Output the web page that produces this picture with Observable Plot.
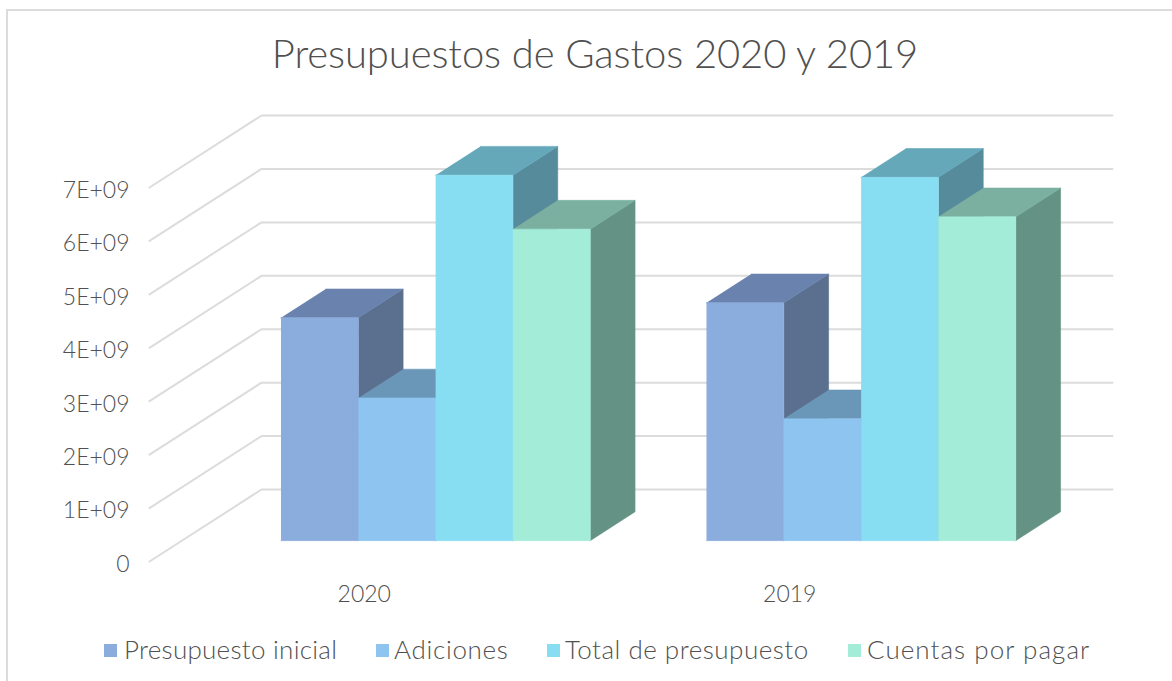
<!DOCTYPE html>
<html lang="es"><head><meta charset="utf-8">
<script src="https://cdn.jsdelivr.net/npm/d3@7"></script>
<script src="https://cdn.jsdelivr.net/npm/@observablehq/plot@0.6"></script>
<style>
html,body{margin:0;padding:0;background:#fff;overflow:hidden}
#frame{position:relative;width:1172px;height:681px;font-family:Lato,sans-serif;color:#505050}
#frame:before{content:"";position:absolute;left:6px;top:9px;right:-5px;bottom:-5px;border:2px solid #dcdcdc;pointer-events:none}
#title{height:100px;box-sizing:border-box;padding-top:26px;text-align:center;padding-left:18px;font-size:40px;font-weight:300;line-height:54px;letter-spacing:-.1px}
#chart{height:520px}
#chart svg{display:block;font-family:Lato,sans-serif;font-weight:300}
#legend{position:relative;height:61px;font-size:26px;font-weight:300}
#legend span{position:absolute;top:14px;white-space:nowrap;line-height:30px}
#legend i{position:absolute;top:24px;width:13px;height:13px}
</style></head><body>
<div id="frame"><div id="title">Presupuestos de Gastos 2020 y 2019</div><div id="chart"></div><div id="legend"></div></div>
<script>
const categories = ["2020", "2019"];
const seriesNames = ["Presupuesto inicial", "Adiciones", "Total de presupuesto", "Cuentas por pagar"];
const values2020 = [4.17e9, 2.67e9, 6.84e9, 5.83e9];
const values2019 = [4.45e9, 2.28e9, 6.80e9, 6.06e9];
const yTicks = [0, 1e9, 2e9, 3e9, 4e9, 5e9, 6e9, 7e9];
const frontColors = ["#8aadde", "#8ec5f0", "#87def2", "#a3ecd8"];
const topColors = ["#6a83ae", "#6a97b8", "#65a8ba", "#7bb0a1"];
const sideColors = ["#5b708f", "#5b8296", "#568b9c", "#649385"];
const legendLeft = [[104, 124], [376, 394], [547, 565], [848, 867]];
const legendSpacing = [0.27, 0.7, 0.5, 1.05];

// depth geometry of the 3-D box, in axis units
const wallDX = 0.2632, wallDY = 1.347e9;   // front edge of the floor -> back wall
const barZ0 = 0.29, barZ1 = 0.69;          // bar front and back, as a fraction of the depth
const barStart = 0.2327, barWidth = 0.1817;
const at = (x, v, z) => ({x: x + z * wallDX, y: v + z * wallDY});

const grid = yTicks.flatMap((v) => [at(0, v, 0), at(0, v, 1), at(2, v, 1)].map((p) => ({...p, v})));

const faces = [];
[values2020, values2019].forEach((vals, c) => vals.forEach((v, s) => {
  const x0 = c + barStart + s * barWidth, x1 = x0 + barWidth;
  const add = (name, color, pts) => pts.forEach((p) => faces.push({...p, color, id: `${c}-${s}-${name}`}));
  add("side", sideColors[s], [at(x1, 0, barZ0), at(x1, 0, barZ1), at(x1, v, barZ1), at(x1, v, barZ0)]);
  add("top", topColors[s], [at(x0, v, barZ0), at(x1, v, barZ0), at(x1, v, barZ1), at(x0, v, barZ1)]);
  add("front", frontColors[s], [at(x0, 0, barZ0), at(x1, 0, barZ0), at(x1, v, barZ0), at(x0, v, barZ0)]);
}));

const plot = Plot.plot({
  width: 1172, height: 520,
  marginLeft: 149, marginRight: 172, marginTop: 0, marginBottom: 59,
  style: {background: "transparent", overflow: "visible"},
  x: {domain: [0, 2], range: [149, 1000]},
  y: {domain: [0, 7e9], range: [461, 87]},
  color: {type: "identity"},
  marks: [
    Plot.line(grid, {x: "x", y: "y", z: "v", stroke: "#dcdcdc", strokeWidth: 2}),
    Plot.line(faces, {x: "x", y: "y", z: "id", fill: "color", stroke: "color", strokeWidth: 0.6}),
    Plot.axisY({ticks: yTicks, anchor: "left", tickSize: 0, tickPadding: 20, dy: 3, label: null, fontSize: 23, fill: "#505050",
      tickFormat: (d) => d === 0 ? "0" : `${d / 1e9}E+09`}),
    Plot.axisX({ticks: [0.5, 1.5], anchor: "bottom", tickSize: 0, tickPadding: 24, dx: 2, label: null, fontSize: 23, fill: "#505050",
      tickFormat: (d) => categories[Math.floor(d)]})
  ]
});
document.getElementById("chart").append(plot);

const legend = document.getElementById("legend");
seriesNames.forEach((name, i) => {
  const sw = document.createElement("i");
  sw.style.left = legendLeft[i][0] + "px";
  sw.style.background = frontColors[i];
  const t = document.createElement("span");
  t.style.left = legendLeft[i][1] + "px";
  t.style.letterSpacing = legendSpacing[i] + "px";
  t.textContent = name;
  legend.append(sw, t);
});
</script></body></html>
